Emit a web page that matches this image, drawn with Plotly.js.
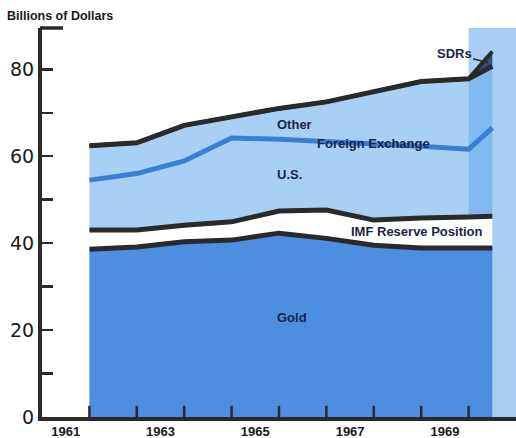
<!DOCTYPE html>
<html>
<head>
<meta charset="utf-8">
<script src="https://cdn.plot.ly/plotly-3.0.1.min.js"></script>
<style>
html,body{margin:0;padding:0;background:#fff;}
#chart{width:516px;height:438px;}
</style>
</head>
<body>
<div id="chart"></div>
<script>
// Positions along the time axis (year boundaries; last point is mid-1970)
var periods = [1962, 1963, 1964, 1965, 1966, 1967, 1968, 1969, 1970, 1970.5];
// Components, billions of dollars
var gold  = [38.6, 39.1, 40.3, 40.7, 42.3, 41.1, 39.5, 38.9, 38.9, 38.9];
var imf   = [4.4, 3.9, 3.8, 4.2, 5.1, 6.5, 5.8, 6.9, 7.1, 7.3];
var fxUS  = [11.5, 13.0, 14.8, 19.3, 16.5, 15.8, 17.7, 16.5, 15.6, 20.3];
var fxOther = [7.9, 7.1, 8.2, 4.8, 7.1, 9.1, 11.8, 14.9, 16.2, 14.2];
var sdrs  = [0, 0, 0, 0, 0, 0, 0, 0, 0, 3.4];

var yearTicks = [1962, 1963, 1964, 1965, 1966, 1967, 1968, 1969, 1970];
var yearLabelPos = [1961.5, 1963.5, 1965.5, 1967.5, 1969.5];
var yearLabels = ['1961', '1963', '1965', '1967', '1969'];
var yTicks = [0, 20, 40, 60, 80];

var dark = '#2a2a2a';
var navy = '#1c2545';
var lightFill = 'rgba(94,168,235,0.54)';

var traces = [
  {x: periods, y: gold, name: 'Gold', stackgroup: 'r', mode: 'lines',
   line: {color: dark, width: 5}, fillcolor: '#4d8ee0'},
  {x: periods, y: imf, name: 'IMF Reserve Position', stackgroup: 'r', mode: 'lines',
   line: {color: dark, width: 5}, fillcolor: '#ffffff'},
  {x: periods, y: fxUS, name: 'U.S.', stackgroup: 'r', mode: 'lines',
   line: {color: '#3b7ed8', width: 5}, fillcolor: lightFill},
  {x: periods, y: fxOther, name: 'Other', stackgroup: 'r', mode: 'lines',
   line: {color: dark, width: 5}, fillcolor: lightFill},
  {x: periods, y: sdrs, name: 'SDRs', stackgroup: 'r', mode: 'lines',
   line: {color: dark, width: 4}, fillcolor: '#2f4f86'},
  // year-boundary tick marks sitting on the time axis (lower half clipped)
  {x: yearTicks, y: yearTicks.map(function () { return 0; }), mode: 'markers', cliponaxis: true,
   marker: {symbol: 'line-ns-open', size: 16, color: dark, line: {color: dark, width: 2.5}},
   hoverinfo: 'skip'}
];

var labFont = {family: 'Liberation Sans, Arial, sans-serif', size: 13, color: navy, weight: 'bold'};
function lab(text, x, y) {
  return {text: '<b>' + text + '</b>', x: x, y: y, xref: 'x', yref: 'y', showarrow: false, font: labFont};
}

var shapes = [
  {type: 'rect', xref: 'x', yref: 'paper', x0: 1970, x1: 1971, y0: 0, y1: 1,
   fillcolor: '#a8cff2', line: {width: 0}, layer: 'below'},
  {type: 'line', xref: 'paper', yref: 'paper', xsizemode: 'pixel', xanchor: 0,
   x0: -2, x1: 21, y0: 1, y1: 1, line: {color: dark, width: 3.5}}
];

var layout = {
  width: 516, height: 438,
  margin: {l: 42, r: 0, t: 28, b: 21},
  paper_bgcolor: '#ffffff', plot_bgcolor: '#ffffff',
  showlegend: false,
  xaxis: {
    range: [1961, 1971], showgrid: false, zeroline: false,
    showline: true, linecolor: dark, linewidth: 3.5, layer: 'above traces',
    tickmode: 'array', tickvals: yearLabelPos, ticktext: yearLabels, ticks: '',
    tickfont: {family: 'Liberation Sans, Arial, sans-serif', size: 13, color: '#1a1a1a', weight: 'bold'}
  },
  yaxis: {
    range: [0, 89.5], showgrid: false, zeroline: false,
    showline: true, linecolor: dark, linewidth: 4, layer: 'above traces',
    tickmode: 'array', tickvals: yTicks, ticks: 'inside', ticklen: 11, tickwidth: 2.5, tickcolor: dark,
    tickfont: {family: 'DejaVu Sans, sans-serif', size: 19, color: '#1a1a1a'},
    minor: {tick0: 0, dtick: 10, ticks: 'inside', ticklen: 11, tickwidth: 2.5, tickcolor: dark, showgrid: false}
  },
  shapes: shapes,
  annotations: [
    {text: '<b>Billions of Dollars</b>', xref: 'paper', yref: 'paper', x: -0.078, y: 1.031,
     xanchor: 'left', yanchor: 'middle', showarrow: false,
     font: {family: 'Liberation Sans, Arial, sans-serif', size: 12.5, color: '#1a1a1a'}},
    lab('Other', 1966.32, 67.2),
    lab('Foreign Exchange', 1968.0, 62.9),
    lab('U.S.', 1966.23, 55.9),
    lab('IMF Reserve Position', 1968.92, 42.6),
    lab('Gold', 1966.27, 22.8),
    {text: '<b>SDRs</b>', x: 1970.41, y: 81.5, xref: 'x', yref: 'y',
     showarrow: true, arrowhead: 0, arrowwidth: 1.5, arrowcolor: dark,
     ax: -34, ay: -9, font: labFont}
  ]
};

Plotly.newPlot('chart', traces, layout, {displayModeBar: false, staticPlot: true});
</script>
</body>
</html>
